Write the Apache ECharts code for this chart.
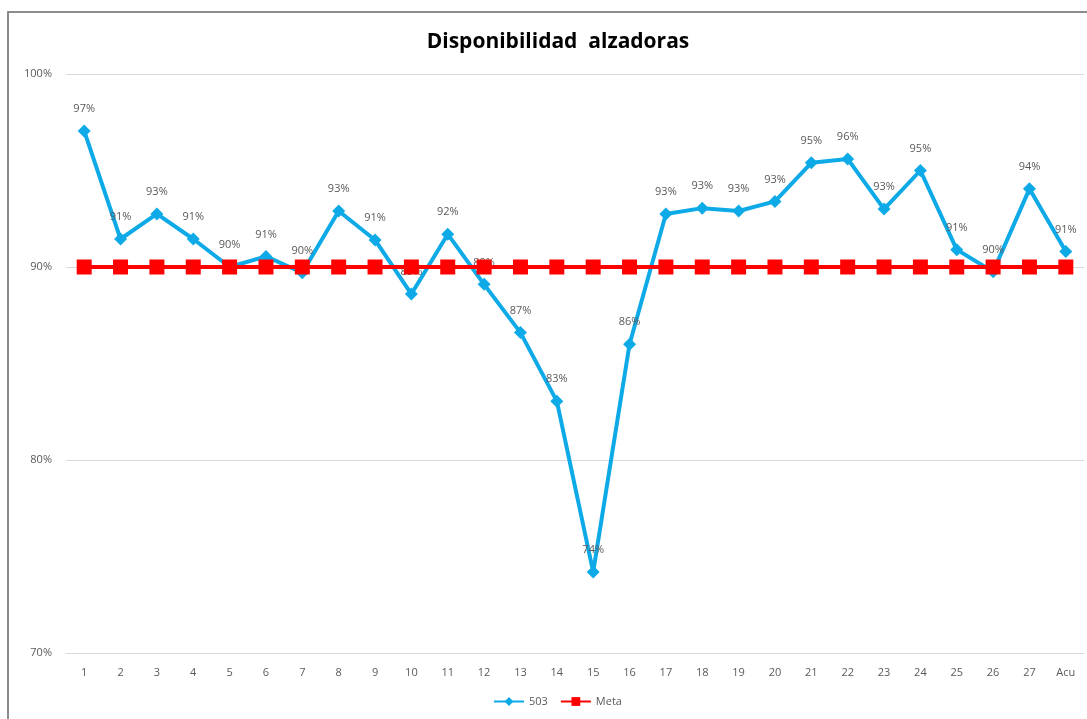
<!DOCTYPE html>
<html>
<head>
<meta charset="utf-8">
<script src="https://cdn.jsdelivr.net/npm/echarts@6/dist/echarts.min.js"></script>
<style>
  html, body { margin: 0; padding: 0; background: #fff; }
  #chart { width: 1087px; height: 719px; }
</style>
</head>
<body>
<div id="chart"></div>
<script>
// categorias (semanas + acumulado)
var categories = ['1', '2', '3', '4', '5', '6', '7', '8', '9', '10', '11', '12', '13', '14',
  '15', '16', '17', '18', '19', '20', '21', '22', '23', '24', '25', '26', '27', 'Acu'];
// disponibilidad 503 (%)
var serie503 = [97.05, 91.45, 92.75, 91.45, 90.0, 90.55, 89.7, 92.9, 91.4, 88.6, 91.7, 89.1, 86.6, 83.05,
  74.2, 86.0, 92.75, 93.05, 92.9, 93.4, 95.4, 95.6, 93.0, 95.0, 90.9, 89.75, 94.05, 90.8];
// meta (%)
var serieMeta = [90, 90, 90, 90, 90, 90, 90, 90, 90, 90, 90, 90, 90, 90,
  90, 90, 90, 90, 90, 90, 90, 90, 90, 90, 90, 90, 90, 90];
var yTicks = [70, 80, 90, 100];

var chart = echarts.init(document.getElementById('chart'));
var option = {
  backgroundColor: '#fff',
  animation: false,
  textStyle: { fontFamily: 'Open Sans, Liberation Sans, sans-serif' },
  title: {
    text: 'Disponibilidad  alzadoras',
    left: 553,
    textAlign: 'center',
    top: 27,
    textStyle: { fontSize: 21, fontWeight: 'bold', color: '#000', fontFamily: 'Open Sans, sans-serif' }
  },
  graphic: [{
    type: 'rect',
    shape: { x: 8, y: 12, width: 1200, height: 800 },
    style: { fill: 'none', stroke: '#8c8c8c', lineWidth: 2 },
    silent: true
  }],
  legend: {
    bottom: 7,
    left: 488,
    itemWidth: 30,
    itemHeight: 11,
    itemGap: 12,
    textStyle: { fontSize: 11, color: '#595959' },
    data: ['503', 'Meta']
  },
  grid: { left: 66, right: 3, top: 74, bottom: 66 },
  xAxis: {
    type: 'category',
    data: categories,
    boundaryGap: true,
    axisLine: { lineStyle: { color: '#d9d9d9' } },
    axisTick: { show: false },
    axisLabel: { color: '#595959', fontSize: 11, margin: 14 }
  },
  yAxis: {
    type: 'value',
    min: yTicks[0],
    max: yTicks[yTicks.length - 1],
    interval: 10,
    axisLine: { show: false },
    axisTick: { show: false },
    splitLine: { lineStyle: { color: '#d9d9d9' } },
    axisLabel: { color: '#595959', fontSize: 11, margin: 14, formatter: '{value}%' }
  },
  series: [
    {
      name: '503',
      type: 'line',
      data: serie503,
      symbol: 'diamond',
      symbolSize: 13,
      z: 3,
      itemStyle: { color: '#0eaae8' },
      lineStyle: { width: 4, color: '#0eaae8' },
      label: {
        show: true,
        position: 'top',
        distance: 10,
        color: '#595959',
        fontSize: 11,
        formatter: function (p) { return Math.round(p.value) + '%'; }
      }
    },
    {
      name: 'Meta',
      type: 'line',
      data: serieMeta,
      symbol: 'rect',
      symbolSize: 15,
      z: 4,
      itemStyle: { color: '#ff0000' },
      lineStyle: { width: 4, color: '#ff0000' }
    }
  ]
};
chart.setOption(option);
window.addEventListener('resize', function () { chart.resize(); });
</script>
</body>
</html>
